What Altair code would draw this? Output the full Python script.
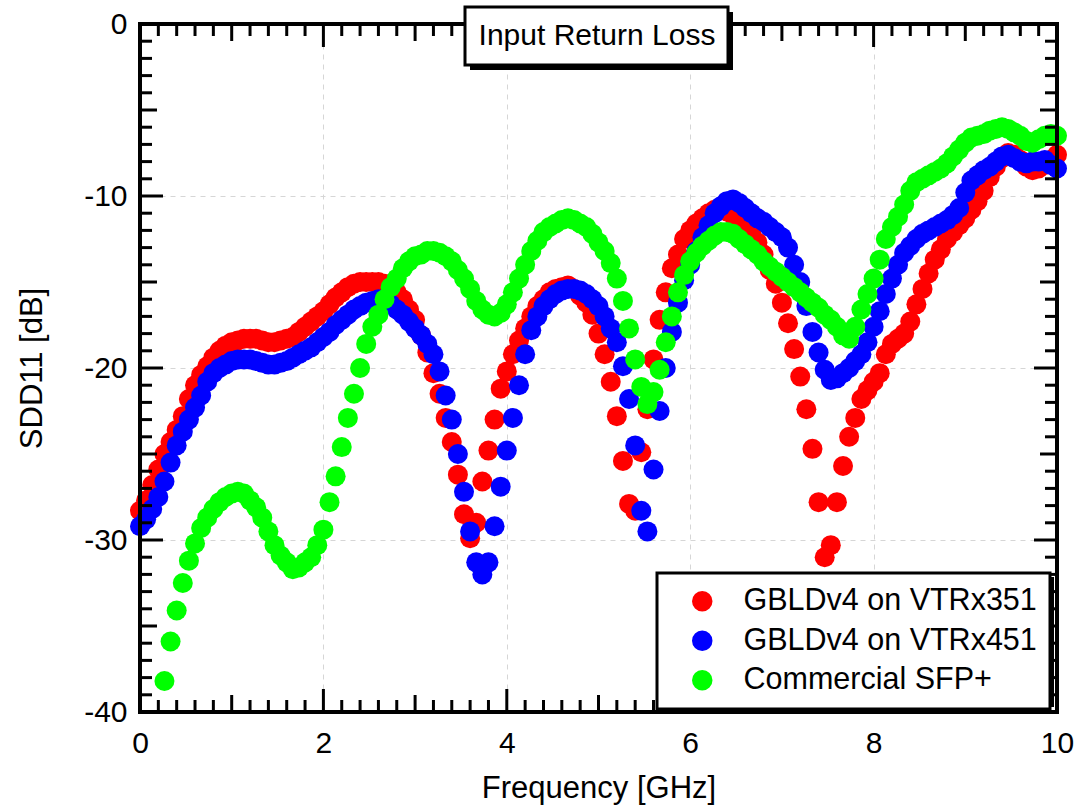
import altair as alt
import pandas as pd

FONT = "Liberation Sans"

# Linear VNA sweep: 0 to 10 GHz, 151 points
FREQ_GHZ = [round(i / 15, 4) for i in range(151)]

# SDD11 [dB], GBLDv4 on VTRx351
VTRX351 = [
    -28.3, -27.7, -26.8, -25.9, -25.0, -24.3, -23.6, -22.8, -21.8, -21.0, -20.4,
    -19.9, -19.4, -19.0, -18.7, -18.5, -18.4, -18.3, -18.3, -18.3, -18.4,
    -18.5, -18.5, -18.4, -18.3, -18.2, -17.9, -17.6, -17.3, -17.0, -16.7,
    -16.3, -15.9, -15.6, -15.3, -15.1, -15.0, -15.0, -15.0, -15.0, -15.1,
    -15.3, -15.6, -16.0, -16.6, -17.2, -18.1, -19.1, -20.3, -21.5, -22.9,
    -24.3, -26.2, -28.5, -29.9, -29.0, -26.6, -24.8, -23.0, -21.2, -20.2,
    -19.2, -18.4, -17.7, -17.0, -16.4, -16.0, -15.6, -15.4, -15.3, -15.2,
    -15.4, -15.8, -16.2, -16.9, -18.0, -19.2, -20.8, -22.8, -25.4, -27.9,
    -28.3, -24.9, -22.4, -19.5, -17.2, -15.6, -14.2, -13.4, -12.5, -12.0,
    -11.6, -11.3, -11.0, -10.8, -10.8, -10.9, -11.1, -11.3, -11.6, -12.1,
    -12.7, -13.4, -14.3, -15.1, -16.2, -17.4, -18.9, -20.5, -22.4, -24.7,
    -27.8, -31.0, -30.3, -27.8, -25.7, -24.0, -22.9, -21.8, -21.3, -20.8,
    -20.3, -19.2, -18.6, -18.3, -18.0, -17.3, -16.3, -15.4, -14.5, -13.7,
    -13.1, -12.5, -12.1, -11.7, -11.3, -10.8, -10.3, -9.7, -8.9, -8.3,
    -7.8, -7.5, -7.6, -7.9, -8.3, -8.5, -8.4, -8.2, -7.9, -7.6,
]

# SDD11 [dB], GBLDv4 on VTRx451
VTRX451 = [
    -29.2, -28.8, -28.2, -27.5, -26.6, -25.5, -24.5, -23.7, -23.0, -22.3, -21.6,
    -20.8, -20.3, -20.0, -19.8, -19.6, -19.5, -19.5, -19.5, -19.6, -19.7,
    -19.8, -19.8, -19.7, -19.6, -19.4, -19.2, -19.0, -18.8, -18.5, -18.2,
    -17.9, -17.5, -17.2, -16.9, -16.6, -16.4, -16.2, -16.1, -16.0, -16.1,
    -16.3, -16.6, -16.9, -17.3, -17.7, -18.1, -18.6, -19.2, -20.2, -21.6,
    -23.0, -25.0, -27.2, -29.5, -31.3, -32.0, -31.3, -29.2, -26.9, -24.8,
    -22.9, -21.0, -19.2, -17.8, -17.0, -16.4, -16.0, -15.7, -15.5, -15.4,
    -15.4, -15.5, -15.7, -16.0, -16.4, -17.0, -17.7, -18.5, -19.9, -21.8,
    -24.5, -28.3, -29.5, -25.9, -22.5, -20.0, -17.9, -16.2, -14.9, -14.0,
    -13.2, -12.4, -11.7, -11.0, -10.6, -10.3, -10.2, -10.4, -10.7, -11.0,
    -11.3, -11.5, -11.8, -12.1, -12.4, -13.0, -14.0, -15.0, -16.4, -17.9,
    -19.1, -20.1, -20.7, -20.6, -20.3, -20.0, -19.6, -19.2, -18.5, -17.6,
    -16.7, -15.7, -14.8, -14.0, -13.3, -12.9, -12.5, -12.2, -12.0, -11.8,
    -11.6, -11.4, -11.1, -10.7, -9.8, -9.1, -8.8, -8.5, -8.3, -8.0,
    -7.7, -7.6, -7.8, -8.0, -8.1, -8.0, -8.0, -7.9, -8.2, -8.4,
]

# SDD11 [dB], commercial SFP+ (points below -40 dB fall off the scale)
SFP_FIRST_INDEX = 4
SFP = [
    -38.2, -35.9, -34.1, -32.5, -31.2, -30.2, -29.3,
    -28.7, -28.2, -27.8, -27.5, -27.3, -27.2, -27.3, -27.7, -28.1, -28.7,
    -29.5, -30.3, -30.9, -31.3, -31.7, -31.6, -31.3, -31.0, -30.3, -29.4,
    -27.8, -26.3, -24.6, -22.9, -21.5, -20.0, -18.6, -17.6, -16.9, -16.0,
    -15.3, -14.8, -14.2, -13.8, -13.5, -13.4, -13.2, -13.2, -13.3, -13.5,
    -13.8, -14.3, -14.8, -15.4, -16.1, -16.6, -16.9, -17.0, -16.8, -16.3,
    -15.6, -14.8, -14.0, -13.2, -12.6, -12.1, -11.8, -11.6, -11.4, -11.3,
    -11.4, -11.6, -11.8, -12.2, -12.7, -13.2, -13.9, -14.8, -16.1, -17.7,
    -19.5, -21.1, -22.1, -21.4, -20.1, -18.5, -17.0, -15.6, -14.6, -13.8,
    -13.3, -12.9, -12.6, -12.3, -12.1, -12.1, -12.2, -12.5, -12.8, -13.1,
    -13.4, -13.8, -14.1, -14.4, -14.7, -15.0, -15.3, -15.6, -15.9, -16.2,
    -16.5, -16.9, -17.2, -17.6, -18.1, -18.3, -17.6, -16.6, -15.7, -14.8,
    -13.7, -12.5, -11.8, -11.2, -10.5, -9.7, -9.2, -9.0, -8.8, -8.6,
    -8.4, -8.1, -7.7, -7.3, -6.9, -6.6, -6.5, -6.4, -6.2, -6.1,
    -6.0, -6.1, -6.3, -6.5, -6.8, -6.9, -6.7, -6.5, -6.4, -6.5,
]

SERIES = ["GBLDv4 on VTRx351", "GBLDv4 on VTRx451", "Commercial SFP+"]
COLORS = ["#ff0000", "#0000ff", "#00ff00"]

X_LABELS = [0, 2, 4, 6, 8, 10]
Y_LABELS = [0, -10, -20, -30, -40]
X_MINOR = [k / 5 for k in range(1, 50) if k % 5 != 0]
X_MID = [1, 3, 5, 7, 9]
X_MAJOR = [2, 4, 6, 8]
Y_MINOR = [-k for k in range(1, 40) if k % 5 != 0]
Y_MID = [-5, -15, -25, -35]
Y_MAJOR = [-10, -20, -30]

W, H = 917, 688

rows = []
for name, vals, first in [
    (SERIES[0], VTRX351, 0),
    (SERIES[1], VTRX451, 0),
    (SERIES[2], SFP, SFP_FIRST_INDEX),
]:
    for k, v in enumerate(vals):
        rows.append({"freq": FREQ_GHZ[first + k], "sdd11": v, "series": name})
df = pd.DataFrame(rows)

x_scale = alt.Scale(domain=[0, 10], nice=False, zero=False)
y_scale = alt.Scale(domain=[-40, 0], nice=False, zero=False)
one = pd.DataFrame({"k": [0]})

axis_style = dict(grid=True, gridDash=[5, 5], gridColor="#d6d6d6", gridWidth=1,
                  ticks=False, domain=False, labelFont=FONT, labelFontSize=30,
                  labelColor="black", titleFont=FONT, titleFontSize=31,
                  titleFontWeight="normal", titleColor="black",
                  labelExpr="datum.value + ''", labelOverlap=False, labelFlush=False)
X_AXIS = alt.Axis(values=X_LABELS, title="Frequency [GHz]", labelPadding=16,
                  titleY=85, titleBaseline="alphabetic", **axis_style)
Y_AXIS = alt.Axis(values=Y_LABELS, title="SDD11 [dB]", labelPadding=13,
                  titleX=-99, titleY=H / 2, titleBaseline="alphabetic",
                  titleAlign="center", **axis_style)

points = alt.Chart(df).mark_circle(size=400, opacity=1).encode(
    x=alt.X("freq:Q", scale=x_scale, axis=X_AXIS),
    y=alt.Y("sdd11:Q", scale=y_scale, axis=Y_AXIS),
    color=alt.Color("series:N", sort=SERIES,
                    scale=alt.Scale(domain=SERIES, range=COLORS),
                    legend=alt.Legend(orient="none", legendX=517, legendY=549, title=None,
                                      symbolType="circle", symbolSize=420,
                                      symbolStrokeWidth=0, symbolOffset=17,
                                      labelOffset=26, labelFontSize=30.5, labelFont=FONT,
                                      labelColor="black", labelLimit=500,
                                      rowPadding=8.5, padding=13,
                                      fillColor="white", strokeColor="black")),
)


def x_ticks(vals, length, top):
    src = pd.DataFrame({"freq": vals})
    y0, y1 = (0, length) if top else (H, H - length)
    return alt.Chart(src).mark_rule(color="black", strokeWidth=3).encode(
        x=alt.X("freq:Q", scale=x_scale, axis=X_AXIS),
        y=alt.value(y0), y2=alt.value(y1))


def y_ticks(vals, length, right):
    src = pd.DataFrame({"sdd11": vals})
    x0, x1 = (W, W - length) if right else (0, length)
    return alt.Chart(src).mark_rule(color="black", strokeWidth=3).encode(
        y=alt.Y("sdd11:Q", scale=y_scale, axis=Y_AXIS),
        x=alt.value(x0), x2=alt.value(x1))


tick_layers = []
for side in (False, True):
    tick_layers += [x_ticks(X_MINOR, 12, side), x_ticks(X_MID, 17, side), x_ticks(X_MAJOR, 23, side)]
    tick_layers += [y_ticks(Y_MINOR, 12, side), y_ticks(Y_MID, 17, side), y_ticks(Y_MAJOR, 23, side)]

frame = alt.Chart(one).mark_rect(fillOpacity=0, stroke="black", strokeWidth=4).encode(
    x=alt.value(0), x2=alt.value(W), y=alt.value(0), y2=alt.value(H))

legend_shadow = alt.Chart(one).mark_rect(color="black").encode(
    x=alt.value(521), x2=alt.value(914), y=alt.value(553), y2=alt.value(683))

title_shadow = alt.Chart(one).mark_rect(color="black").encode(
    x=alt.value(330), x2=alt.value(593), y=alt.value(-12), y2=alt.value(46))
title_box = alt.Chart(one).mark_rect(fill="white", stroke="black", strokeWidth=3).encode(
    x=alt.value(325), x2=alt.value(588), y=alt.value(-17), y2=alt.value(41))
title_text = alt.Chart(one).mark_text(
    text="Input Return Loss", font=FONT, fontSize=30, color="black",
    align="center", baseline="middle").encode(x=alt.value(457), y=alt.value(12))

chart = alt.layer(
    points, *tick_layers, frame, legend_shadow, title_shadow, title_box, title_text
).properties(
    width=W, height=H,
    padding={"left": 140, "top": 24, "right": 18, "bottom": 97},
    autosize="none",
).configure_view(stroke=None).configure_legend(strokeWidth=3, cornerRadius=0)

chart.save("out.html", embed_options={"renderer": "svg", "actions": False})
